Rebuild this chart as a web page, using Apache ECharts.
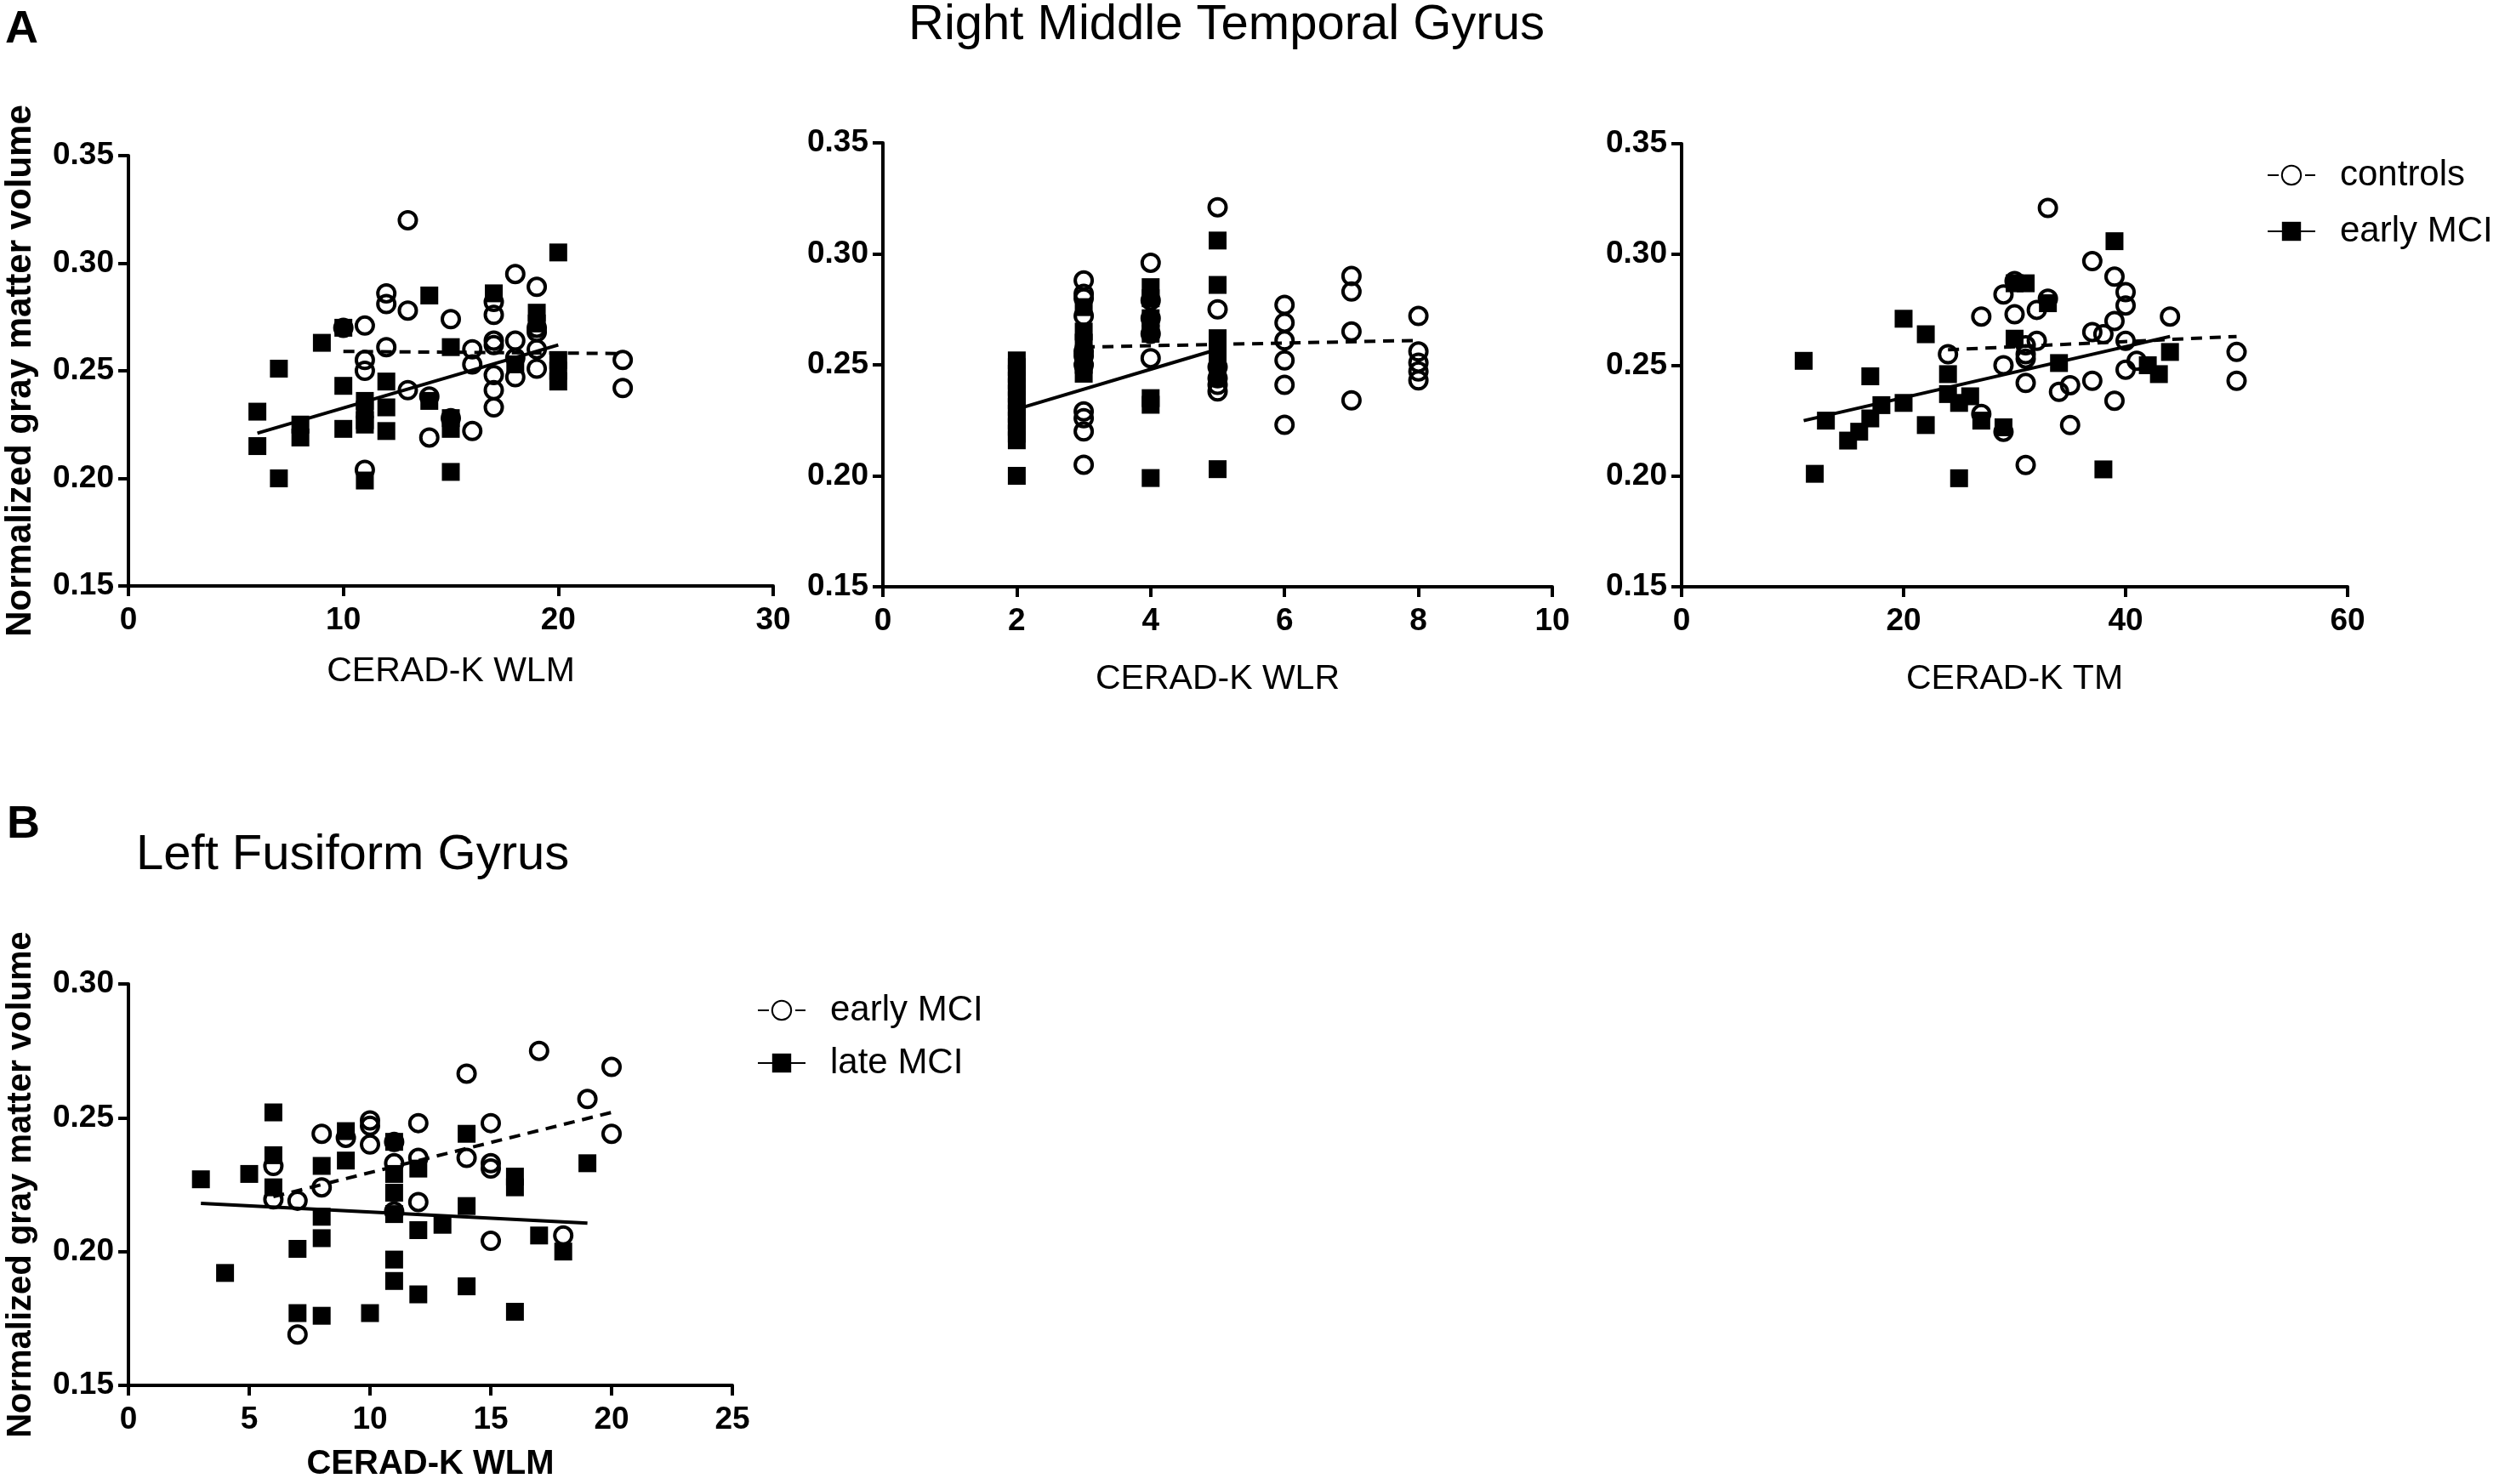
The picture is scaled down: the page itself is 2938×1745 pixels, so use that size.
<!DOCTYPE html>
<html>
<head>
<meta charset="utf-8">
<title>Gray matter volume vs CERAD-K</title>
<script src="https://cdn.jsdelivr.net/npm/echarts@6/dist/echarts.min.js"></script>
<style>
html, body { margin: 0; padding: 0; background: #fff; }
#main { width: 2938px; height: 1745px; }
</style>
</head>
<body>
<div id="main"></div>
<script>
// ---- data: [score, normalized gray matter volume] ----

// A, Right Middle Temporal Gyrus, CERAD-K WLM
var wlmControls = [[10,0.270],[11,0.271],[11,0.255],[11,0.250],[11,0.204],[12,0.286],[12,0.281],[12,0.261],
  [13,0.320],[13,0.278],[13,0.241],[14,0.238],[14,0.219],[15,0.274],[15,0.228],[16,0.260],[16,0.253],[16,0.222],
  [17,0.282],[17,0.276],[17,0.264],[17,0.262],[17,0.248],[17,0.241],[17,0.233],[18,0.295],[18,0.264],[18,0.256],
  [18,0.247],[19,0.289],[19,0.270],[19,0.268],[19,0.260],[19,0.251],[23,0.255],[23,0.242]];
var wlmEarly = [[6,0.231],[6,0.215],[7,0.251],[7,0.200],[8,0.225],[8,0.219],[9,0.263],[10,0.270],[10,0.243],
  [10,0.223],[11,0.236],[11,0.232],[11,0.227],[11,0.225],[11,0.199],[12,0.245],[12,0.233],[12,0.222],[14,0.285],
  [14,0.236],[15,0.261],[15,0.228],[15,0.223],[15,0.203],[17,0.286],[18,0.253],[19,0.277],[19,0.272],[20,0.305],
  [20,0.255],[20,0.250],[20,0.245]];
var wlmControlsFit = [[10,0.259],[23,0.258]];
var wlmEarlyFit = [[6,0.221],[20,0.262]];

// A, CERAD-K WLR
var wlrControls = [[3,0.288],[3,0.282],[3,0.280],[3,0.272],[3,0.256],[3,0.254],[3,0.250],[3,0.229],[3,0.226],
  [3,0.220],[3,0.205],[4,0.296],[4,0.279],[4,0.271],[4,0.264],[4,0.253],[5,0.321],[5,0.275],[5,0.249],[5,0.244],
  [5,0.241],[5,0.238],[6,0.277],[6,0.269],[6,0.261],[6,0.252],[6,0.241],[6,0.223],[7,0.290],[7,0.283],[7,0.265],
  [7,0.234],[8,0.272],[8,0.256],[8,0.251],[8,0.247],[8,0.243]];
var wlrEarly = [[2,0.252],[2,0.249],[2,0.246],[2,0.243],[2,0.240],[2,0.237],[2,0.234],[2,0.231],[2,0.228],
  [2,0.225],[2,0.222],[2,0.219],[2,0.216],[2,0.200],[3,0.276],[3,0.265],[3,0.260],[3,0.255],[3,0.250],[3,0.246],
  [4,0.285],[4,0.280],[4,0.271],[4,0.268],[4,0.264],[4,0.235],[4,0.232],[4,0.199],[5,0.306],[5,0.286],[5,0.262],
  [5,0.257],[5,0.252],[5,0.248],[5,0.244],[5,0.203]];
var wlrControlsFit = [[3,0.258],[8,0.261]];
var wlrEarlyFit = [[2,0.230],[5,0.257]];

// A, CERAD-K TM
var tmControls = [[24,0.255],[27,0.272],[27,0.228],[29,0.282],[29,0.250],[29,0.220],[30,0.288],[30,0.273],
  [31,0.259],[31,0.255],[31,0.253],[31,0.242],[31,0.205],[32,0.275],[32,0.261],[33,0.321],[33,0.280],[34,0.238],
  [35,0.241],[35,0.223],[37,0.297],[37,0.265],[37,0.243],[38,0.264],[39,0.290],[39,0.270],[39,0.234],[40,0.283],
  [40,0.277],[40,0.261],[40,0.248],[41,0.252],[44,0.272],[50,0.256],[50,0.243]];
var tmEarly = [[11,0.252],[12,0.201],[13,0.225],[15,0.216],[16,0.220],[17,0.245],[17,0.226],[18,0.232],[20,0.271],
  [20,0.233],[22,0.264],[22,0.223],[24,0.246],[24,0.237],[25,0.233],[25,0.199],[26,0.236],[27,0.225],[29,0.222],
  [30,0.287],[30,0.262],[31,0.287],[33,0.278],[34,0.251],[38,0.203],[39,0.306],[42,0.250],[43,0.246],[44,0.256]];
var tmControlsFit = [[24,0.257],[50,0.263]];
var tmEarlyFit = [[11,0.225],[44,0.263]];

// B, Left Fusiform Gyrus, CERAD-K WLM
var fusEarly = [[6,0.232],[6,0.2195],[7,0.219],[7,0.169],[8,0.244],[8,0.224],[9,0.2425],[10,0.249],[10,0.247],
  [10,0.240],[11,0.241],[11,0.233],[11,0.215],[12,0.248],[12,0.235],[12,0.2185],[14,0.2665],[14,0.235],[15,0.248],
  [15,0.233],[15,0.231],[15,0.204],[17,0.275],[18,0.206],[19,0.257],[20,0.269],[20,0.244]];
var fusLate = [[3,0.227],[4,0.192],[5,0.229],[6,0.252],[6,0.236],[6,0.224],[7,0.201],[7,0.177],[8,0.232],[8,0.213],
  [8,0.205],[8,0.176],[9,0.245],[9,0.234],[10,0.177],[11,0.241],[11,0.229],[11,0.222],[11,0.214],[11,0.197],
  [11,0.189],[12,0.231],[12,0.208],[12,0.184],[13,0.210],[14,0.244],[14,0.217],[14,0.187],[16,0.228],[16,0.224],
  [16,0.1775],[17,0.206],[18,0.200],[19,0.233]];
var fusEarlyFit = [[6,0.2205],[20,0.252]];
var fusLateFit = [[3,0.218],[19,0.2106]];

// tick labels
var yTicksA = [0.15, 0.20, 0.25, 0.30, 0.35];
var yTicksB = [0.15, 0.20, 0.25, 0.30];
var xTicksWLM = [0, 10, 20, 30];
var xTicksWLR = [0, 2, 4, 6, 8, 10];
var xTicksTM = [0, 20, 40, 60];
var xTicksFus = [0, 5, 10, 15, 20, 25];

var FONT = "'Liberation Sans', Arial, Helvetica, sans-serif";

function axis(gridIndex, ticks, isY, name, nameGap, nameSize, nameBold){
  var a = {
    type: 'value',
    gridIndex: gridIndex,
    min: ticks[0],
    max: ticks[ticks.length - 1],
    interval: ticks[1] - ticks[0],
    splitLine: {show: false},
    axisLine: {show: true, onZero: false, lineStyle: {color: '#000', width: 4}},
    axisTick: {show: true, length: 12, lineStyle: {color: '#000', width: 4}},
    axisLabel: {
      color: '#000', fontFamily: FONT, fontWeight: 'bold', fontSize: 37,
      margin: isY ? 17 : 22,
      formatter: function(v){ return isY ? v.toFixed(2) : String(v); }
    }
  };
  if (name) {
    a.name = name;
    a.nameLocation = 'middle';
    a.nameGap = nameGap;
    a.nameTextStyle = {color: '#000', fontFamily: FONT, fontSize: nameSize, fontWeight: nameBold ? 'bold' : 'normal'};
  }
  return a;
}

function dots(name, idx, data, hollow){
  return {
    name: name, type: 'scatter', xAxisIndex: idx, yAxisIndex: idx, data: data,
    symbol: hollow ? 'circle' : 'rect',
    symbolSize: hollow ? 20 : 21,
    z: hollow ? 2 : 3,
    itemStyle: hollow ? {color: 'rgba(255,255,255,0)', borderColor: '#000', borderWidth: 4, opacity: 1}
                      : {color: '#000', opacity: 1}
  };
}

function fit(name, idx, data, hollow){
  return {
    name: name, type: 'line', xAxisIndex: idx, yAxisIndex: idx, data: data,
    symbol: hollow ? 'circle' : 'rect', showSymbol: false, z: 4, silent: true,
    itemStyle: hollow ? {color: '#fff', borderColor: '#000', borderWidth: 4} : {color: '#000'},
    lineStyle: {color: '#000', width: 4, type: hollow ? [13, 9] : 'solid'}
  };
}

var legendText = {color: '#000', fontFamily: FONT, fontSize: 42, padding: [0, 0, 0, 24]};

var option = {
  backgroundColor: '#fff',
  animation: false,
  grid: [
    {left: 151, top: 183, width: 758, height: 506},
    {left: 1038, top: 168, width: 787, height: 522},
    {left: 1977, top: 169, width: 783, height: 521},
    {left: 151, top: 1157, width: 710, height: 472}
  ],
  xAxis: [
    axis(0, xTicksWLM, false, 'CERAD-K WLM', 80, 41, false),
    axis(1, xTicksWLR, false, 'CERAD-K WLR', 88, 41, false),
    axis(2, xTicksTM, false, 'CERAD-K TM', 88, 41, false),
    axis(3, xTicksFus, false, 'CERAD-K WLM', 73, 40, true)
  ],
  yAxis: [
    axis(0, yTicksA, true, 'Normalized gray matter volume', 106, 42, true),
    axis(1, yTicksA, true),
    axis(2, yTicksA, true),
    axis(3, yTicksB, true, 'Normalized gray matter volume', 106, 40, true)
  ],
  legend: [
    {
      data: ['controls', 'early MCI'], orient: 'vertical', left: 2660, top: 180,
      itemWidth: 56, itemHeight: 28, itemGap: 24, selectedMode: false, textStyle: legendText
    },
    {
      data: ['early MCI ', 'late MCI'], orient: 'vertical', left: 885, top: 1162,
      itemWidth: 56, itemHeight: 28, itemGap: 20, selectedMode: false, textStyle: legendText
    }
  ],
  graphic: [
    {type: 'text', x: 6, y: 35, style: {text: 'A', font: 'bold 54px ' + FONT, fill: '#000', textVerticalAlign: 'middle'}},
    {type: 'text', x: 1442, y: 30, style: {text: 'Right Middle Temporal Gyrus', font: '58px ' + FONT, fill: '#000', textAlign: 'center', textVerticalAlign: 'middle'}},
    {type: 'text', x: 8, y: 970, style: {text: 'B', font: 'bold 54px ' + FONT, fill: '#000', textVerticalAlign: 'middle'}},
    {type: 'text', x: 160, y: 1006, style: {text: 'Left Fusiform Gyrus', font: '58px ' + FONT, fill: '#000', textVerticalAlign: 'middle'}}
  ],
  series: [
    // fit lines first so the legend picks up their line + marker icon
    fit('controls', 0, wlmControlsFit, true),
    fit('early MCI', 0, wlmEarlyFit, false),
    fit('controls', 1, wlrControlsFit, true),
    fit('early MCI', 1, wlrEarlyFit, false),
    fit('controls', 2, tmControlsFit, true),
    fit('early MCI', 2, tmEarlyFit, false),
    fit('early MCI ', 3, fusEarlyFit, true),
    fit('late MCI', 3, fusLateFit, false),
    dots('controls', 0, wlmControls, true),
    dots('early MCI', 0, wlmEarly, false),
    dots('controls', 1, wlrControls, true),
    dots('early MCI', 1, wlrEarly, false),
    dots('controls', 2, tmControls, true),
    dots('early MCI', 2, tmEarly, false),
    dots('early MCI ', 3, fusEarly, true),
    dots('late MCI', 3, fusLate, false)
  ]
};

var myChart = echarts.init(document.getElementById('main'));
myChart.setOption(option);
</script>
</body>
</html>
